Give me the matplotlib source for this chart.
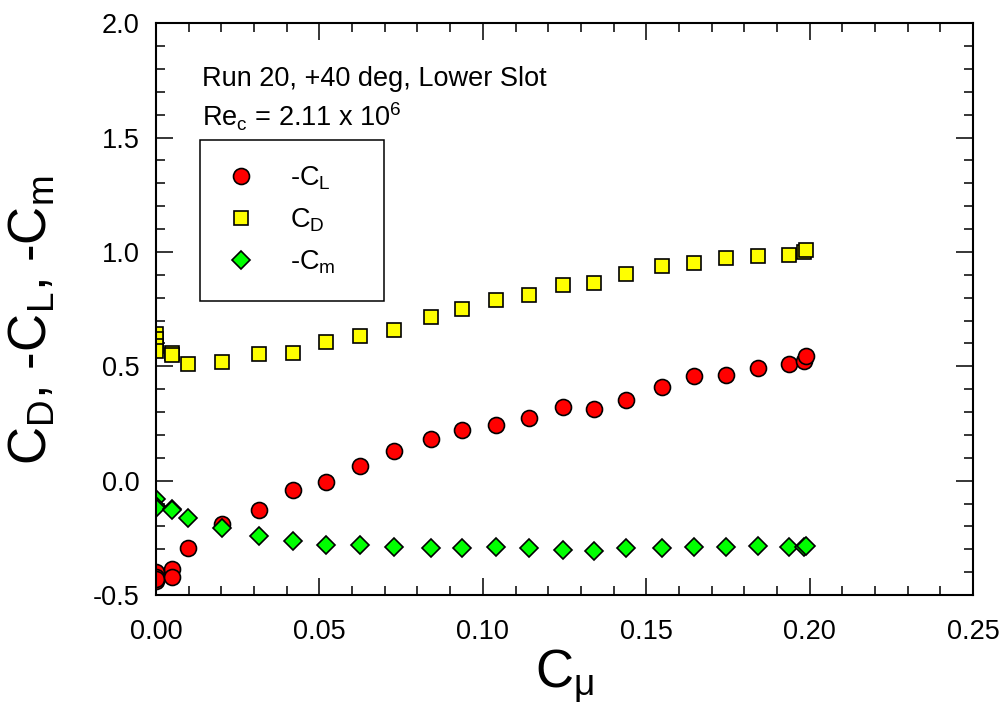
import matplotlib
matplotlib.use("Agg")
import matplotlib.pyplot as plt
from matplotlib.ticker import MultipleLocator, FormatStrFormatter

# C_mu values (shared by all three series)
c_mu = [0.0, 0.0, 0.0, 0.0, 0.005, 0.005, 0.0098, 0.0202, 0.0315, 0.0418, 0.052,
        0.0625, 0.0727, 0.0842, 0.0937, 0.104, 0.1141, 0.1245, 0.134, 0.1438,
        0.1548, 0.1646, 0.1744, 0.1842, 0.1937, 0.1983, 0.1989]
neg_cl = [-0.40, -0.42, -0.44, -0.43, -0.385, -0.42, -0.293, -0.19, -0.127, -0.04, -0.005,
          0.066, 0.131, 0.183, 0.223, 0.245, 0.275, 0.323, 0.315, 0.354,
          0.41, 0.456, 0.463, 0.493, 0.51, 0.524, 0.543]
cd = [0.64, 0.62, 0.59, 0.565, 0.56, 0.55, 0.51, 0.52, 0.554, 0.558, 0.605,
      0.634, 0.66, 0.714, 0.75, 0.788, 0.813, 0.856, 0.862, 0.905,
      0.937, 0.953, 0.975, 0.98, 0.988, 1.0, 1.01]
neg_cm = [-0.08, -0.115, -0.11, -0.12, -0.124, -0.13, -0.162, -0.208, -0.243, -0.262, -0.28,
          -0.283, -0.292, -0.294, -0.294, -0.292, -0.294, -0.303, -0.306, -0.294,
          -0.294, -0.29, -0.29, -0.284, -0.29, -0.29, -0.287]

plt.rcParams["font.family"] = ["Liberation Sans", "DejaVu Sans"]
plt.rcParams["mathtext.fontset"] = "custom"
plt.rcParams["mathtext.rm"] = "Liberation Sans"
plt.rcParams["mathtext.it"] = "Liberation Sans"

fig = plt.figure(figsize=(10.08, 7.23), dpi=100)
ax = fig.add_axes([0.1548, 0.177, 0.8105, 0.791])

mk = dict(linestyle="none", markeredgecolor="black", markeredgewidth=1.2)
pad = "    "  # widens the legend box to match the original
ax.plot(c_mu, neg_cl, marker="o", markersize=11.5, markerfacecolor="#ff0000", label=r"-C$_\mathregular{L}$" + pad, **mk)
ax.plot(c_mu, cd, marker="s", markersize=10, markerfacecolor="#ffff00", label=r"C$_\mathregular{D}$" + pad, **mk)
ax.plot(c_mu, neg_cm, marker="D", markersize=9.5, markerfacecolor="#00ff00", label=r"-C$_\mathregular{m}$" + pad, **mk)

ax.set_xlim(0, 0.25)
ax.set_ylim(-0.5, 2.0)
ax.xaxis.set_major_locator(MultipleLocator(0.05))
ax.xaxis.set_minor_locator(MultipleLocator(0.01))
ax.yaxis.set_major_locator(MultipleLocator(0.5))
ax.yaxis.set_minor_locator(MultipleLocator(0.1))
ax.xaxis.set_major_formatter(FormatStrFormatter("%.2f"))
ax.yaxis.set_major_formatter(FormatStrFormatter("%.1f"))
ax.tick_params(which="both", direction="in", top=True, right=True, labelsize=19.5, width=1.1)
ax.tick_params(which="major", length=12.5)
ax.tick_params(which="minor", length=6.5)
ax.tick_params(axis="x", pad=17)
ax.tick_params(axis="y", pad=12)
for s in ax.spines.values():
    s.set_linewidth(1.5)

ax.set_xlabel(r"C$_\mathregular{\mu}$", fontsize=38, labelpad=2)
ax.set_ylabel(r"C$_\mathregular{D}$, -C$_\mathregular{L}$, -C$_\mathregular{m}$", fontsize=38)
ax.yaxis.set_label_coords(-0.12, 0.48)

ax.text(0.056, 0.925, "Run 20, +40 deg, Lower Slot", transform=ax.transAxes, fontsize=19.5, va="top")
ax.text(0.056, 0.865, r"Re$_\mathregular{c}$ = 2.11 x 10$^\mathregular{6}$", transform=ax.transAxes, fontsize=19.5, va="top")

leg = ax.legend(loc="upper left", bbox_to_anchor=(0.054, 0.796), fontsize=19.5, frameon=True,
                fancybox=False, edgecolor="black", framealpha=1, borderpad=0.9,
                handlelength=1.2, handletextpad=1.2, labelspacing=0.55, borderaxespad=0)
leg.get_frame().set_linewidth(1.1)

fig.savefig("out.png", dpi=100)
